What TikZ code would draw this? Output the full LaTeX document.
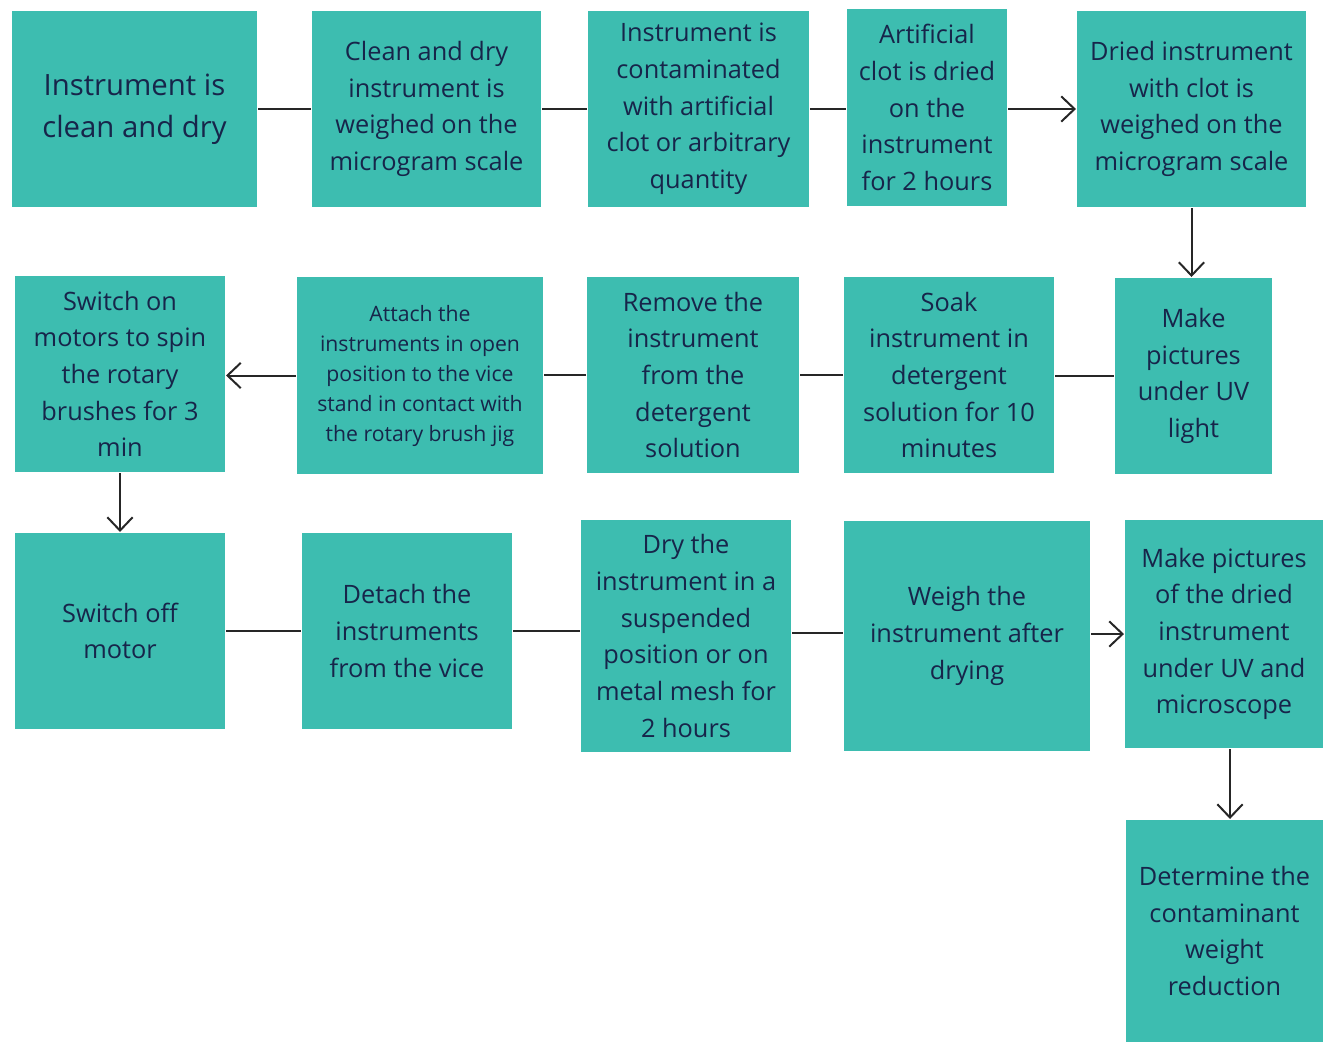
\documentclass[tikz,border=0pt]{standalone}
\usepackage{fontspec}
\setmainfont{Open Sans}
\usetikzlibrary{arrows.meta}

\definecolor{boxteal}{RGB}{61,189,176}
\definecolor{boxtext}{RGB}{23,37,74}

\tikzset{every picture/.style={line width=1.5pt}}
\tikzset{
	step box/.style 2 args={fill=boxteal, draw=none, text=boxtext, align=center, inner sep=2pt,
		minimum width=#1*0.75pt, minimum height=#2*0.75pt,
		font=\fontsize{19}{27.5}\selectfont},
	big text/.style={font=\fontsize{22}{31.5}\selectfont},
	small text/.style={font=\fontsize{15.9}{22.5}\selectfont},
	link/.style={draw=black!85},
	flow/.style={draw=black!85, -{Straight Barb[length=10pt, width=19pt, line width=1.5pt]}}}

\begin{document}
\begin{tikzpicture}[x=0.75pt,y=0.75pt,yscale=-1,xscale=1]
\useasboundingbox (0,0) rectangle (1323,1042);

% Row 1
\node (a1) at (134.5,109) [step box={245}{196}, big text] {Instrument is\\clean and dry};
\node (a2) at (426.5,109) [step box={229}{196}] {Clean and dry\\instrument is\\weighed on the\\microgram scale};
\node (a3) at (698.5,109) [step box={221}{196}] {Instrument is\\contaminated\\with artificial\\clot or arbitrary\\quantity};
\node (a4) at (927,107.5) [step box={160}{197}] {Artificial\\clot is dried\\on the\\instrument\\for 2 hours};
\node (a5) at (1191.5,109) [step box={229}{196}] {Dried instrument\\with clot is\\weighed on the\\microgram scale};

% Row 2
\node (b5) at (1193.5,376) [step box={157}{196}] {Make\\pictures\\under UV\\light};
\node (b4) at (949,375) [step box={210}{196}] {Soak\\instrument in\\detergent\\solution for 10\\minutes};
\node (b3) at (693,375) [step box={212}{196}] {Remove the\\instrument\\from the\\detergent\\solution};
\node (b2) at (420,375.5) [step box={246}{197}, small text] {Attach the\\instruments in open\\position to the vice\\stand in contact with\\the rotary brush jig};
\node (b1) at (120,374) [step box={210}{196}] {Switch on\\motors to spin\\the rotary\\brushes for 3\\min};

% Row 3
\node (c1) at (120,631) [step box={210}{196}] {Switch off\\motor};
\node (c2) at (407,631) [step box={210}{196}] {Detach the\\instruments\\from the vice};
\node (c3) at (686,636) [step box={210}{232}] {Dry the\\instrument in a\\suspended\\position or on\\metal mesh for\\2 hours};
\node (c4) at (967,636) [step box={246}{230}] {Weigh the\\instrument after\\drying};
\node (c5) at (1224,634) [step box={198}{228}] {Make pictures\\of the dried\\instrument\\under UV and\\microscope};

% Last step
\node (d5) at (1224.5,931) [step box={197}{222}] {Determine the\\contaminant\\weight\\reduction};

%Straight Lines
\draw [link] (a1) -- (a2);
\draw [link] (a2) -- (a3);
\draw [link] (a3.east) -- (a3.east -| a4.west);
\draw [flow] (a4.east |- a5) -- (a5.west);
\draw [flow] (a5.south) -- (a5.south |- b5.north);
\draw [link] (b5.west) -- (b5.west -| b4.east);
\draw [link] (b4) -- (b3);
\draw [link] (b3.west) -- (b3.west -| b2.east);
\draw [flow] (b2.west) -- (b2.west -| b1.east);
\draw [flow] (b1) -- (c1);
\draw [link] (c1) -- (c2);
\draw [link] (c2.east) -- (c2.east -| c3.west);
\draw [link] ([yshift=-2.25pt]c3.east) -- ([yshift=-2.25pt]c3.east -| c4.west);
\draw [flow] (c4.east |- c5) -- (c5.west);
\draw [flow] ([xshift=4.5pt]c5.south) -- ([xshift=4.5pt]c5.south |- d5.north);

\end{tikzpicture}
\end{document}
